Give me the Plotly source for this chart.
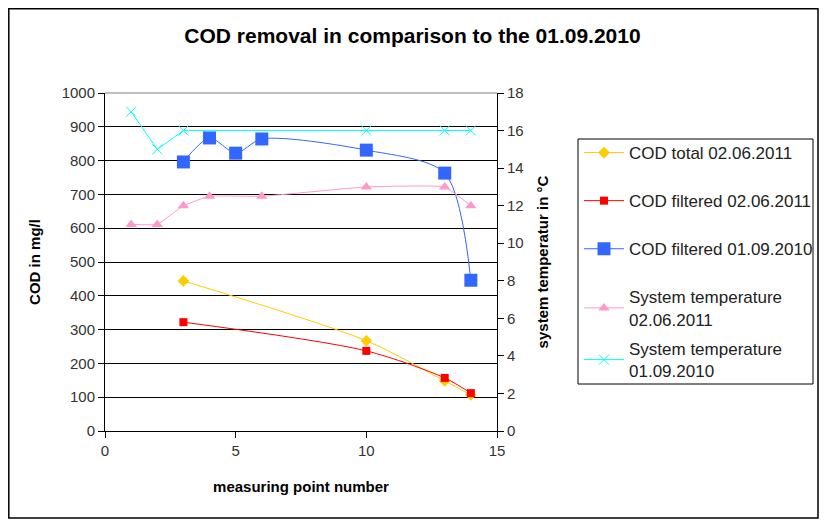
import plotly.graph_objects as go

# ---- data ----
x_cod_2011 = [3, 10, 13, 14]
cod_total_2011 = [444, 267, 148, 107]
cod_filtered_2011 = [322, 237, 157, 112]

x_cod_2010 = [3, 4, 5, 6, 10, 13, 14]
cod_filtered_2010 = [796, 867, 822, 864, 831, 763, 446]

x_temp_2011 = [1, 2, 3, 4, 6, 10, 13, 14]
temp_2011 = [11, 11, 12, 12.5, 12.5, 13, 13, 12]

x_temp_2010 = [1, 2, 3, 10, 13, 14]
temp_2010 = [17, 15, 16, 16, 16, 16]

FONT = "Liberation Sans, Arial, sans-serif"

# page body has an 8px margin: figure origin sits at screen (8, 8)
W, H = 819, 518


def px(xs):  # screen x -> paper x
    return (xs - 105) / 392


def py(ys):  # screen y -> paper y
    return (431 - ys) / 338


fig = go.Figure()

fig.add_trace(go.Scatter(
    x=x_cod_2011, y=cod_total_2011, name="COD total 02.06.2011",
    mode="lines+markers", line=dict(color="#FFCC00", width=1, shape="spline", smoothing=0.8),
    marker=dict(symbol="diamond", size=9, color="#FFCC00"),
    legendgroup="a", yaxis="y", legend="legend"))
fig.add_trace(go.Scatter(
    x=x_cod_2011, y=cod_filtered_2011, name="COD filtered 02.06.2011",
    mode="lines+markers", line=dict(color="#FF0000", width=1, shape="spline", smoothing=0.8),
    marker=dict(symbol="square", size=8, color="#FF0000"),
    legendgroup="b", yaxis="y", legend="legend"))
fig.add_trace(go.Scatter(
    x=x_cod_2010, y=cod_filtered_2010, name="COD filtered 01.09.2010",
    mode="lines+markers", line=dict(color="#3366FF", width=1, shape="spline", smoothing=0.8),
    marker=dict(symbol="square", size=13, color="#3366FF"),
    legendgroup="c", yaxis="y", legend="legend"))
fig.add_trace(go.Scatter(
    x=x_temp_2011, y=temp_2011, name="System temperature<br>02.06.2011",
    mode="lines+markers", line=dict(color="#FF99CC", width=1, shape="spline", smoothing=0.3),
    marker=dict(symbol="triangle-up", size=10, color="#FF99CC"),
    legendgroup="d", yaxis="y2", legend="legend"))
fig.add_trace(go.Scatter(
    x=x_temp_2010, y=temp_2010, name="System temperature<br>01.09.2010",
    mode="lines+markers", line=dict(color="#00FFFF", width=1),
    marker=dict(symbol="x-thin", size=10, color="#00FFFF",
                line=dict(color="#00FFFF", width=1)),
    legendgroup="e", yaxis="y2", legend="legend2"))

tickfont = dict(family=FONT, size=15, color="#333333")
titlefont = dict(family=FONT, size=15, color="black", weight="bold")
legfont = dict(family=FONT, size=17, color="#222222")

fig.update_layout(
    width=W, height=H,
    margin=dict(l=97, r=W - 489, t=85, b=H - 423, autoexpand=False),
    paper_bgcolor="white", plot_bgcolor="white",
    font=dict(family=FONT, color="black"),
    title=dict(text="<b>COD removal in comparison to the 01.09.2010</b>",
               x=(412.5 - 8) / W, xref="container", xanchor="center",
               y=1 - 28 / H, yanchor="middle",
               font=dict(family=FONT, size=21, color="black")),
    xaxis=dict(range=[0, 15], dtick=5, tick0=0, showgrid=False, zeroline=False,
               showline=True, linecolor="black", linewidth=1,
               ticks="outside", ticklen=6, tickcolor="black",
               tickfont=tickfont,
               title=dict(text="measuring point number", font=titlefont, standoff=23)),
    yaxis=dict(range=[0, 1000], dtick=100, tick0=0, showgrid=True, gridcolor="black",
               gridwidth=1, zeroline=False, showline=True, linecolor="black",
               linewidth=1, ticks="outside", ticklen=6, tickcolor="black",
               tickfont=tickfont,
               title=dict(text="COD in mg/l", font=titlefont, standoff=17)),
    yaxis2=dict(range=[0, 18], dtick=2, tick0=0, overlaying="y", side="right",
                showgrid=False, zeroline=False, showline=True, linecolor="black",
                linewidth=1, ticks="outside", ticklen=6, tickcolor="black",
                tickfont=tickfont,
                title=dict(text="system temperatur in °C", font=titlefont, standoff=14)),
    legend=dict(x=px(579), y=py(135), xanchor="left", yanchor="top",
                borderwidth=0, bgcolor="rgba(0,0,0,0)", font=legfont,
                tracegroupgap=23, itemwidth=40, traceorder="grouped"),
    legend2=dict(x=px(579), y=py(331), xanchor="left", yanchor="top",
                 borderwidth=0, bgcolor="rgba(0,0,0,0)", font=legfont,
                 itemwidth=40),
    showlegend=True,
    shapes=[
        dict(type="rect", xref="paper", yref="paper",
             x0=px(8.8), x1=px(818), y0=py(518), y1=py(8.8),
             line=dict(color="black", width=1.5), fillcolor="rgba(0,0,0,0)", layer="below"),
        dict(type="rect", xref="paper", yref="paper",
             x0=px(578), x1=px(813), y0=py(384), y1=py(139),
             line=dict(color="black", width=1), fillcolor="rgba(0,0,0,0)", layer="below"),
        dict(type="line", xref="paper", yref="paper", x0=0, x1=1, y0=1, y1=1,
             line=dict(color="#808080", width=1), layer="above"),
    ],
)

fig.write_html("out.html")
